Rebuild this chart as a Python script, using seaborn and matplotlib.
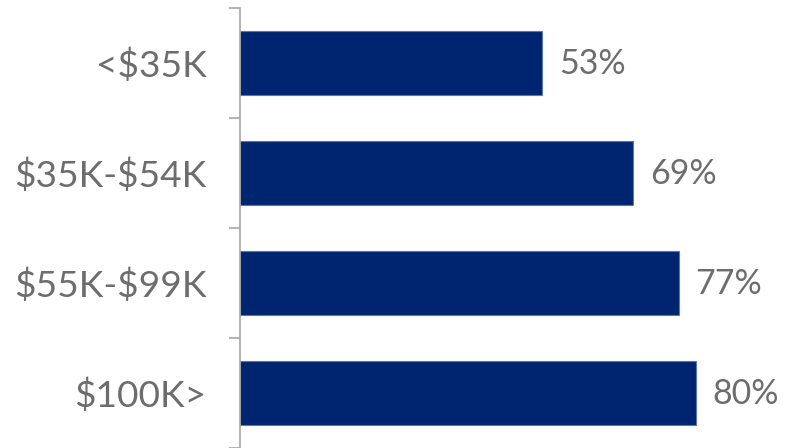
import matplotlib
matplotlib.use("Agg")
import matplotlib.pyplot as plt
import seaborn as sns
import pandas as pd

categories = ["<$35K", "$35K-$54K", "$55K-$99K", "$100K>"]
values = [53, 69, 77, 80]
labels = ["53%", "69%", "77%", "80%"]

sns.set_theme(style="white")
plt.rcParams["font.family"] = ["Lato", "DejaVu Sans"]
plt.rcParams["text.parse_math"] = False

df = pd.DataFrame({"income": categories, "pct": values})

fig = plt.figure(figsize=(7.92, 4.48), dpi=100)
ax = fig.add_axes([240 / 792, 0.0, 1 - 240 / 792, 1 - 8 / 448])

sns.barplot(data=df, x="pct", y="income", order=categories, orient="h",
            color="#002570", width=0.59, edgecolor="#5a78b0", linewidth=0.8,
            saturation=1, ax=ax)

ax.set_xlim(0, 552 / 5.7)
ax.set_ylim(3.5, -0.5)
ax.set_xlabel("")
ax.set_ylabel("")
ax.set_xticks([])

for i, (v, t) in enumerate(zip(values, labels)):
    ax.annotate(t, xy=(v, i), xytext=(12, -1), textcoords="offset points",
                ha="left", va="center", fontsize=24.5, color="#6d6d6d")

ax.set_yticks([i for i in range(len(categories))])
ax.set_yticklabels(categories, fontsize=26.7, color="#6d6d6d")
ax.tick_params(axis="y", length=0, pad=24)
# boundary ticks as minor ticks
ax.set_yticks([-0.5, 0.5, 1.5, 2.5, 3.5], minor=True)
ax.tick_params(axis="y", which="minor", length=8, width=1.2, color="#a6a6a6", left=True)

for s in ["top", "right", "bottom"]:
    ax.spines[s].set_visible(False)
ax.spines["left"].set_color("#a6a6a6")
ax.spines["left"].set_linewidth(1.2)

fig.savefig("out.png", dpi=100)
